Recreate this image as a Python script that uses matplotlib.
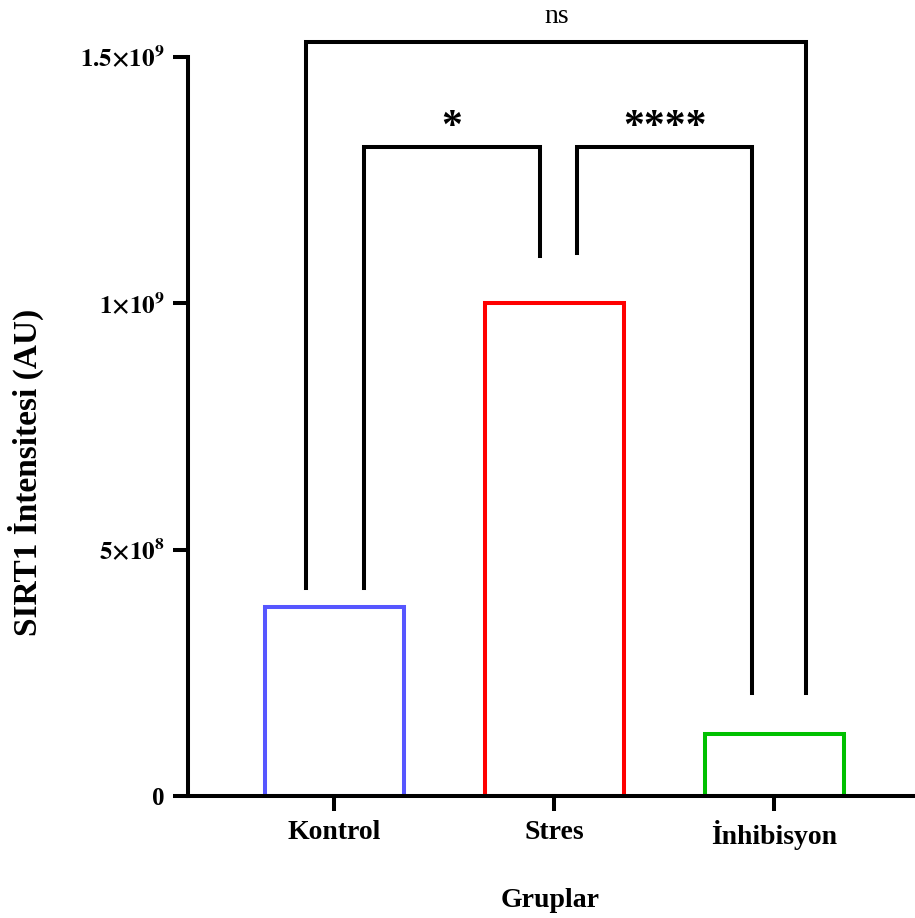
import matplotlib
matplotlib.use("Agg")
from matplotlib import pyplot as plt

groups = ["Kontrol", "Stres", "İnhibisyon"]
values = [3.83e8, 1.0e9, 1.26e8]
colors = ["#5656FF", "#FF0000", "#00C000"]

# comparisons: (left group, right group, label, bracket height)
comparisons = [(0, 1, "*", 1.318e9), (1, 2, "****", 1.318e9), (0, 2, "ns", 1.531e9)]
leg_bottoms = [4.22e8, 1.095e9, 2.09e8]

plt.rcParams["font.family"] = ["Liberation Serif", "DejaVu Serif"]
plt.rcParams["mathtext.fontset"] = "stix"

fig = plt.figure(figsize=(9.15, 9.18), dpi=100)
ax = fig.add_axes([0.2055, 0.1329, 0.7925, 0.8051])

x = list(range(len(groups)))
ax.bar(x, values, width=0.63, facecolor="white", edgecolor=colors, linewidth=2.9)

ax.set_xlim(-0.664, 2.63)
ax.set_ylim(0, 1.5e9)
ax.set_yticks([0, 5e8, 1e9, 1.5e9])
ax.set_yticklabels(["0", r"$\mathbf{5{\times}10^8}$", r"$\mathbf{1{\times}10^9}$",
                    r"$\mathbf{1.5{\times}10^9}$"])
ax.set_xticks(x)
ax.set_xticklabels(groups)
for lab in ax.get_xticklabels():
    lab.set_fontweight("bold")
    lab.set_fontsize(20)
for lab in ax.get_yticklabels():
    lab.set_fontweight("bold")
    lab.set_fontsize(18)

ax.spines["top"].set_visible(False)
ax.spines["right"].set_visible(False)
ax.spines["left"].set_linewidth(2.9)
ax.spines["bottom"].set_linewidth(2.9)
ax.tick_params(width=2.9, length=11, pad=6)

ax.set_ylabel("SIRT1 İntensitesi (AU)", fontsize=24, fontweight="bold")
ax.yaxis.set_label_coords(-0.198, 0.438)
ax.set_xlabel("Gruplar", fontsize=20, fontweight="bold", labelpad=28)

# brackets
offsets = {(0, 1): (0.136, -0.064), (1, 2): (0.105, -0.10), (0, 2): (-0.127, 0.145)}
for a, b, label, h in comparisons:
    dx1, dx2 = offsets[(a, b)]
    xa, xb = x[a] + dx1, x[b] + dx2
    ya = leg_bottoms[a]
    yb = leg_bottoms[b]
    if (a, b) == (1, 2):
        ya = 1.103e9
    ax.plot([xa, xa, xb, xb], [ya, h, h, yb], color="black", lw=2.9,
            clip_on=False, solid_joinstyle="miter")
    if label == "ns":
        ax.text((xa + xb) / 2, h + 0.025e9, label, ha="center", va="bottom",
                fontsize=20, clip_on=False)
    else:
        ax.text((xa + xb) / 2, h + 0.0e9, label, ha="center", va="bottom",
                fontsize=30, fontweight="bold", clip_on=False)

fig.savefig("out.png", dpi=100)
